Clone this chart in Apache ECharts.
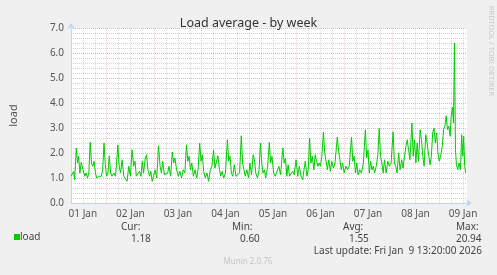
<!DOCTYPE html>
<html><head><meta charset="utf-8">
<script src="https://cdn.jsdelivr.net/npm/echarts@6/dist/echarts.min.js"></script>
<style>html,body{margin:0;padding:0;background:#f0f0f0;}#c{width:497px;height:275px;}</style>
</head><body><div id="c"></div>
<script>
// hours since 01 Jan 00:00 (graph spans 6h .. 206h)
const hours = [6.0,6.83,7.33,7.83,8.67,9.33,9.83,10.5,11.17,11.83,12.33,13.0,13.67,14.33,15.0,15.67,16.33,17.0,17.67,18.33,19.0,20.17,21.33,22.0,22.67,23.33,24.0,24.67,25.33,26.0,26.67,27.67,28.5,29.67,30.33,31.0,31.83,32.67,33.5,34.33,35.17,36.0,36.83,37.67,38.33,39.0,39.83,40.67,41.33,42.0,42.67,43.5,44.17,44.83,45.67,46.33,47.0,47.67,48.5,49.33,50.17,51.0,51.67,52.33,53.17,54.0,54.83,55.5,56.33,57.17,57.83,58.5,59.33,60.17,61.0,61.83,62.67,63.5,64.33,65.0,65.67,66.33,67.0,67.83,68.67,69.5,70.17,71.0,71.67,72.33,73.0,73.83,74.67,75.5,76.33,77.17,78.0,78.67,79.33,80.17,81.0,81.67,82.33,83.17,84.0,85.0,85.67,86.33,87.0,87.67,88.5,89.33,90.17,91.17,92.0,92.67,93.33,94.0,94.83,95.67,96.33,97.17,98.0,98.67,99.33,100.17,101.0,101.67,102.33,103.0,103.67,104.33,105.33,106.17,106.83,107.5,108.33,109.17,110.0,111.0,111.83,113.0,113.67,114.33,115.0,115.67,116.33,117.17,118.0,118.67,119.67,120.5,121.33,122.17,123.0,123.67,124.33,125.17,125.83,126.5,127.17,127.83,128.67,129.33,130.0,130.67,131.33,132.0,132.67,133.5,134.17,134.83,135.5,136.17,137.0,137.67,138.5,139.33,140.5,141.17,141.83,142.5,143.17,144.0,144.83,145.67,146.5,147.67,148.33,149.0,149.67,150.33,151.0,151.83,152.67,153.67,154.67,155.33,156.0,156.67,157.33,158.0,158.67,159.33,160.17,161.0,161.67,162.33,163.0,163.67,164.33,165.17,166.0,166.83,167.67,168.67,169.33,170.0,170.67,171.5,172.17,173.0,173.67,174.33,175.17,175.83,176.5,177.17,178.17,178.83,179.5,180.17,180.83,181.5,182.33,183.0,183.67,184.33,185.17,185.83,186.5,187.33,188.0,188.67,189.33,190.0,190.67,191.33,192.0,192.67,193.5,194.17,194.83,195.5,196.17,196.83,197.5,198.0,198.67,199.17,199.67,200.17,200.67,201.33,202.0,202.67,203.33,203.83,204.33,204.83,205.33];
const loadValues = [1.07,1.0,1.27,0.93,2.2,1.6,1.87,1.2,1.63,1.4,1.47,1.07,1.2,1.0,1.2,2.43,1.6,1.47,1.67,1.2,1.0,1.07,1.07,1.33,2.4,1.53,1.07,1.2,1.89,1.2,1.07,1.2,1.07,2.32,1.47,1.2,1.73,1.07,1.13,0.87,1.47,1.07,2.13,1.47,1.67,1.07,1.0,1.27,1.07,1.67,1.2,1.8,1.93,1.33,1.07,1.27,0.87,1.07,1.33,1.0,2.29,1.47,1.2,1.67,1.13,1.07,1.2,1.47,1.07,2.04,1.6,1.8,1.33,1.07,1.27,1.0,1.33,1.2,2.33,1.67,1.87,1.33,1.6,1.07,1.33,1.0,1.33,2.4,1.67,1.93,1.27,1.0,1.2,0.87,1.33,1.47,2.13,1.4,1.6,1.89,1.33,1.07,1.27,1.0,1.2,2.53,1.67,1.87,1.2,1.07,1.53,1.07,1.07,1.2,2.69,1.6,1.67,1.07,1.33,1.0,1.6,1.13,1.93,1.73,1.2,1.0,1.33,2.4,1.6,1.2,1.33,1.0,1.47,2.43,1.6,1.87,1.2,1.07,1.13,1.47,1.13,2.2,1.6,1.8,1.07,1.53,1.07,1.07,1.27,1.13,1.73,1.07,1.47,1.07,0.93,1.33,1.67,1.07,1.33,2.6,1.6,1.87,1.33,1.93,1.67,1.47,1.6,1.47,1.87,2.84,2.0,2.07,1.33,1.73,1.27,1.67,1.4,1.6,2.64,2.07,1.73,1.33,1.6,1.2,1.47,1.33,1.47,2.64,1.67,1.87,1.2,1.6,1.13,1.33,1.2,1.6,2.93,1.8,2.13,1.2,1.67,1.33,1.47,1.2,1.47,1.93,2.99,1.87,1.6,1.2,1.73,1.2,1.67,1.47,1.6,2.85,1.6,1.47,1.2,2.0,1.33,1.73,1.4,1.8,2.27,2.53,2.13,1.73,3.2,1.87,2.53,1.6,2.4,1.67,2.93,2.53,1.87,1.47,2.73,2.4,2.0,1.53,1.87,2.8,3.0,2.4,2.8,2.0,1.67,1.87,2.27,2.93,3.07,3.49,2.93,3.07,2.67,3.47,3.84,3.2,6.4,2.13,1.53,1.33,1.6,1.33,2.73,1.87,2.67,1.47,1.2];
const dayLabels = ['01 Jan','02 Jan','03 Jan','04 Jan','05 Jan','06 Jan','07 Jan','08 Jan','09 Jan'];
const yTicks = [0,1,2,3,4,5,6,7];
const seriesName = 'load';
const statHeaders = ['Cur:','Min:','Avg:','Max:'];
const statValues = ['1.18','0.60','1.55','20.94'];
const lastUpdate = 'Last update: Fri Jan  9 13:20:00 2026';

const FONT = '"Noto Sans", "DejaVu Sans", sans-serif';
const chart = echarts.init(document.getElementById('c'), null, {renderer:'canvas'});
const minorCol = 'rgba(170,170,170,0.55)';
const majorCol = 'rgba(225,110,110,0.55)';
const minorColX = 'rgba(170,170,170,0.45)';
const majorColX = 'rgba(225,120,120,0.38)';
const statX = [[121,131],[232,240],[343,349],[456,456]];
const graphics = [];
statHeaders.forEach((h,i)=>{
  graphics.push({type:'text', x:statX[i][0], y:227, style:{text:h, font:'10px '+FONT, fill:'#444', align:'left', verticalAlign:'middle'}});
  graphics.push({type:'text', x:statX[i][1], y:239, style:{text:statValues[i], font:'10px '+FONT, fill:'#444', align:'left', verticalAlign:'middle'}});
});
graphics.push({type:'text', x:482, y:251, style:{text:lastUpdate, font:'10px '+FONT, fill:'#444', align:'right', verticalAlign:'middle'}});
graphics.push({type:'text', x:248, y:262, style:{text:'Munin 2.0.76', font:'8px '+FONT, fill:'#c4c4c4', align:'center', verticalAlign:'middle'}});
graphics.push({type:'text', x:491, y:51, rotation:-Math.PI/2, style:{text:'RRDTOOL / TOBI OETIKER', font:'7.5px '+FONT, fill:'#c8c8c8', align:'center', verticalAlign:'middle'}});

chart.setOption({
  backgroundColor:'#f0f0f0',
  animation:false,
  textStyle:{fontFamily:FONT},
  title:{text:'Load average - by week', left:'center', top:12, textStyle:{fontSize:12.5, fontWeight:'normal', color:'#333', fontFamily:FONT}},
  legend:{left:14, top:232, itemWidth:6, itemHeight:6, padding:0, icon:'rect', data:[seriesName],
    textStyle:{fontSize:10, color:'#444', fontFamily:FONT, padding:[0,0,0,-5]}},
  grid:{left:67, right:30, top:28, bottom:72, show:true, backgroundColor:'#ffffff', borderWidth:0},
  xAxis:{type:'value', min:6, max:206, interval:6,
    axisLine:{show:true, lineStyle:{color:'#c8d0f8', width:1}, symbol:['none','arrow'], symbolSize:[6,6], symbolOffset:[0,5]},
    axisTick:{show:false},
    axisLabel:{show:true, color:'#555', fontSize:10, margin:6, fontFamily:FONT, showMinLabel:true, showMaxLabel:false,
      formatter:v=>{ if (((v%24)+24)%24===12){ const d=Math.floor(v/24); return dayLabels[d]||''; } return ''; }},
    splitLine:{show:true, showMaxLine:false, lineStyle:{color:[minorColX,minorColX,minorColX,majorColX], type:[1,1], width:1}}
  },
  yAxis:{type:'value', min:yTicks[0], max:yTicks[yTicks.length-1], interval:1, name:'load', nameLocation:'middle', nameGap:52,
    nameTextStyle:{color:'#555', fontSize:11, fontFamily:FONT},
    axisLine:{show:true, lineStyle:{color:'#c8d0f8', width:1}, symbol:['none','arrow'], symbolSize:[6,6], symbolOffset:[0,5]},
    axisTick:{show:false},
    axisLabel:{color:'#555', fontSize:10, margin:7, fontFamily:FONT, formatter:v=>v.toFixed(1)},
    splitLine:{show:true, lineStyle:{color:majorCol, type:[1,1], width:1}},
    minorTick:{show:false, splitNumber:5},
    minorSplitLine:{show:true, lineStyle:{color:minorCol, type:[1,1], width:1}}
  },
  series:[{name:seriesName, type:'line', data:hours.map((h,i)=>[h, loadValues[i]]), symbol:'none', color:'#00cc00',
    lineStyle:{color:'#00cc00', width:1}, z:5}],
  graphic:graphics
});
</script></body></html>
